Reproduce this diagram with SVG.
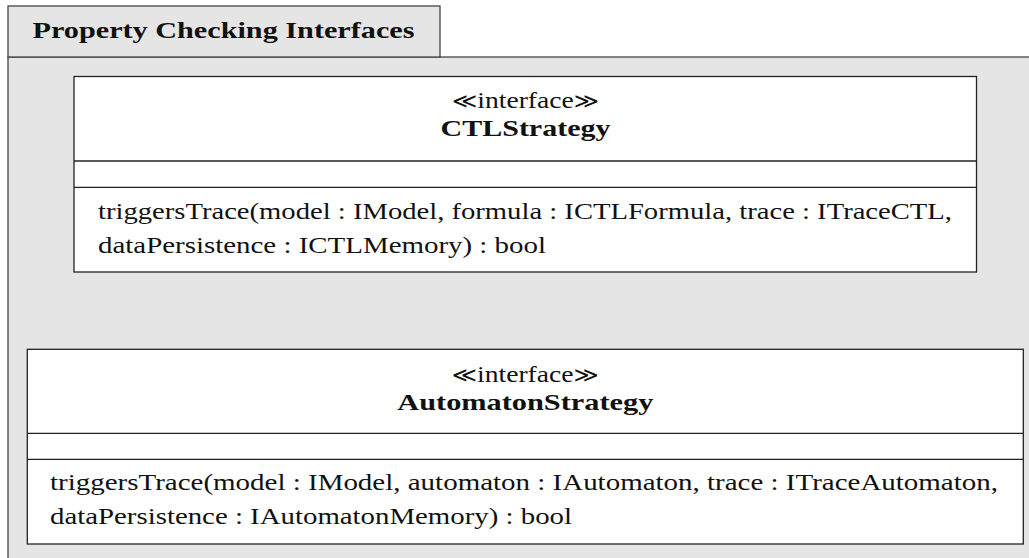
<svg xmlns="http://www.w3.org/2000/svg" width="1029" height="558" viewBox="0 0 1029 558">
<style>
.pkg{fill:#e5e5e5;stroke:#444;stroke-width:1.3}
.box{fill:#fff;stroke:#222;stroke-width:1.3}
.div{stroke:#222;stroke-width:1.3}
text{font-family:"Liberation Serif","Times New Roman",serif;font-size:24px;fill:#111}
.sym{font-family:"DejaVu Serif","DejaVu Sans",serif;font-size:21px}
.b{font-weight:bold}
.c{text-anchor:middle}
</style>
<rect width="1029" height="558" fill="#fff"/>
<g id="package">
<rect class="pkg" x="8" y="57" width="1040" height="520"/>
<rect class="pkg" x="8" y="6" width="432" height="51"/>
<text class="b" x="32.5" y="38" textLength="382" lengthAdjust="spacingAndGlyphs">Property Checking Interfaces</text>
</g>
<g id="CTLStrategy">
<rect class="box" x="74" y="76.5" width="902.5" height="195.5"/>
<line class="div" x1="74" y1="161" x2="976.5" y2="161"/>
<line class="div" x1="74" y1="187.3" x2="976.5" y2="187.3"/>
<text class="c" x="525.5" y="108" textLength="147" lengthAdjust="spacingAndGlyphs"><tspan class="sym">≪</tspan>interface<tspan class="sym">≫</tspan></text>
<text class="c b" x="525.5" y="136" textLength="170" lengthAdjust="spacingAndGlyphs">CTLStrategy</text>
<text x="98" y="218.5" textLength="854" lengthAdjust="spacingAndGlyphs">triggersTrace(model : IModel, formula : ICTLFormula, trace : ITraceCTL,</text>
<text x="98" y="252.5" textLength="448" lengthAdjust="spacingAndGlyphs">dataPersistence : ICTLMemory) : bool</text>
</g>
<g id="AutomatonStrategy">
<rect class="box" x="27.3" y="349.3" width="996" height="194.7"/>
<line class="div" x1="27.3" y1="433.3" x2="1023.3" y2="433.3"/>
<line class="div" x1="27.3" y1="459.3" x2="1023.3" y2="459.3"/>
<text class="c" x="525.3" y="381.5" textLength="147" lengthAdjust="spacingAndGlyphs"><tspan class="sym">≪</tspan>interface<tspan class="sym">≫</tspan></text>
<text class="c b" x="525.3" y="410" textLength="256" lengthAdjust="spacingAndGlyphs">AutomatonStrategy</text>
<text x="50" y="490" textLength="948" lengthAdjust="spacingAndGlyphs">triggersTrace(model : IModel, automaton : IAutomaton, trace : ITraceAutomaton,</text>
<text x="50" y="523.5" textLength="522" lengthAdjust="spacingAndGlyphs">dataPersistence : IAutomatonMemory) : bool</text>
</g>
<g id="connectors"></g>
</svg>
